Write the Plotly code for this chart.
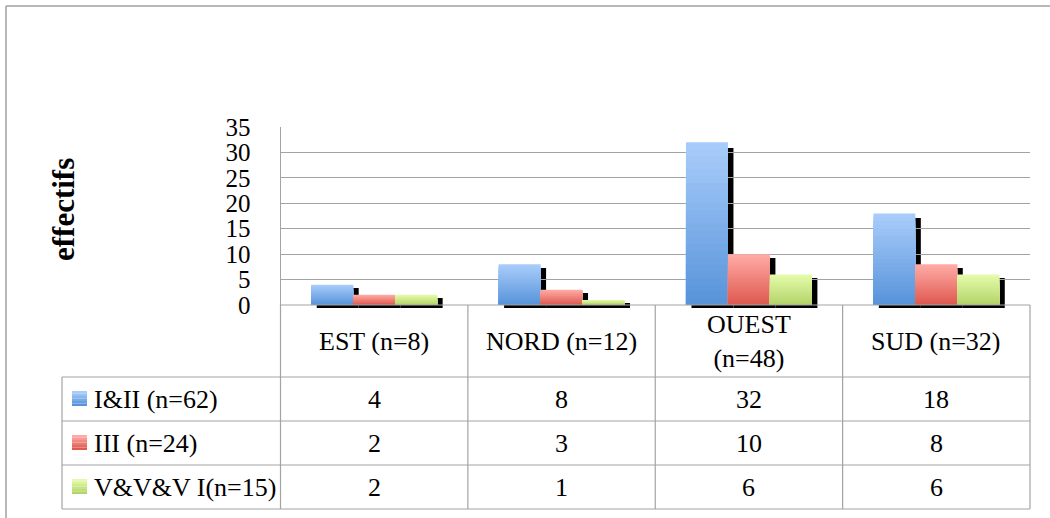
import plotly.graph_objects as go

# data
regions = ["EST (n=8)", "NORD (n=12)", "OUEST (n=48)", "SUD (n=32)"]
region_labels = ["EST (n=8)", "NORD (n=12)", "OUEST<br>(n=48)", "SUD (n=32)"]
series_names = ["I&II (n=62)", "III (n=24)", "V&V&V I(n=15)"]
i_ii = [4, 8, 32, 18]
iii = [2, 3, 10, 8]
v_vi = [2, 1, 6, 6]
y_ticks = [0, 5, 10, 15, 20, 25, 30, 35]

series_values = [i_ii, iii, v_vi]
# (top colour, bottom colour) for the Excel-like gradient
series_colors = [((168, 204, 250), (88, 148, 218)),
                 ((255, 170, 165), (222, 90, 80)),
                 ((228, 251, 170), (180, 212, 106))]

W, H = 1050, 518
FONT = "Liberation Serif"
GRID = "#a3a3a3"


def px(x):
    return x / W


def py(y):
    return 1 - y / H


def mix(c1, c2, t):
    return "rgb(%d,%d,%d)" % tuple(round(a + (b - a) * t) for a, b in zip(c1, c2))


# plot area in pixels
left, right, top, zero = 280.5, 1030, 127, 305
col_w = (right - left) / 4
rows = [377, 421, 465, 509]

fig = go.Figure()

# shadows (drawn first, on an offset subplot)
for k, vals in enumerate(series_values):
    fig.add_trace(go.Bar(x=regions, y=vals, xaxis="x", yaxis="y",
                         marker=dict(color="black", line_width=0),
                         offsetgroup=str(k), showlegend=False, hoverinfo="skip"))

# real bars with a stepped vertical gradient
N = 24
for k, vals in enumerate(series_values):
    c_top, c_bot = series_colors[k]
    for j in range(N):
        frac = (N - j) / N
        fig.add_trace(go.Bar(x=regions, y=[v * frac for v in vals],
                             xaxis="x2", yaxis="y2",
                             marker=dict(color=mix(c_top, c_bot, j / (N - 1)), line_width=0),
                             offsetgroup=str(k), name=series_names[k],
                             showlegend=False, hoverinfo="skip"))

sx, sy = 5.5, 3
fig.update_layout(
    width=W, height=H, autosize=False,
    margin=dict(l=0, r=0, t=0, b=0, pad=0),
    paper_bgcolor="white", plot_bgcolor="rgba(0,0,0,0)",
    font=dict(family=FONT, size=26, color="black"),
    barmode="group", bargap=0.328, bargroupgap=0,
    showlegend=False,
    xaxis=dict(domain=[px(left + sx), px(right + sx)], anchor="y",
               categoryorder="array", categoryarray=regions,
               visible=False, range=[-0.5, 3.5], automargin=False),
    yaxis=dict(domain=[py(zero + sy), py(top + sy)], anchor="x",
               range=[0, 35.6], visible=False, automargin=False),
    xaxis2=dict(domain=[px(left), px(right)], anchor="y2",
                categoryorder="array", categoryarray=regions,
                range=[-0.5, 3.5], showticklabels=False, showgrid=False,
                zeroline=False, showline=False, ticks="", automargin=False),
    yaxis2=dict(domain=[py(zero), py(top)], anchor="x2",
                range=[0, 35], tickvals=y_ticks, showgrid=True,
                gridcolor=GRID, gridwidth=1.2, zeroline=False,
                showline=True, linecolor=GRID, linewidth=1.2,
                ticks="", ticklabelstandoff=24, automargin=False,
                tickfont=dict(family=FONT, size=25, color="black")),
)

line = dict(color=GRID, width=1.2)
shapes = []
# outer chart border
shapes.append(dict(type="line", xref="paper", yref="paper",
                   x0=px(6), x1=px(1050), y0=py(6), y1=py(6), line=dict(color="#a0a0a0", width=1.5)))
shapes.append(dict(type="line", xref="paper", yref="paper",
                   x0=px(6), x1=px(6), y0=py(6), y1=py(518), line=dict(color="#a0a0a0", width=1.5)))
# data table horizontal lines
shapes.append(dict(type="line", xref="paper", yref="paper",
                   x0=px(left), x1=px(right), y0=py(zero), y1=py(zero), line=line))
for r in rows:
    shapes.append(dict(type="line", xref="paper", yref="paper",
                       x0=px(62), x1=px(right), y0=py(r), y1=py(r), line=line))
# vertical lines
shapes.append(dict(type="line", xref="paper", yref="paper",
                   x0=px(62), x1=px(62), y0=py(rows[0]), y1=py(rows[-1]), line=line))
for c in range(5):
    xx = left + c * col_w
    shapes.append(dict(type="line", xref="paper", yref="paper",
                       x0=px(xx), x1=px(xx), y0=py(zero), y1=py(rows[-1]), line=line))

# legend keys with small gradient
for k in range(3):
    c_top, c_bot = series_colors[k]
    y0 = (rows[k] + rows[k + 1]) / 2 - 8
    steps = 6
    for j in range(steps):
        shapes.append(dict(type="rect", xref="paper", yref="paper",
                           x0=px(72), x1=px(87),
                           y0=py(y0 + 15 * j / steps), y1=py(y0 + 15 * (j + 1) / steps),
                           fillcolor=mix(c_top, c_bot, j / (steps - 1)), line_width=0))
fig.update_layout(shapes=shapes)

ann = []
# header labels
for i, lab in enumerate(region_labels):
    ann.append(dict(x=i, xref="x2", y=py((zero + rows[0]) / 2), yref="paper",
                    text=lab, showarrow=False, font=dict(size=26),
                    xanchor="center", yanchor="middle"))
# table rows
for k, vals in enumerate(series_values):
    yc = py((rows[k] + rows[k + 1]) / 2)
    ann.append(dict(x=px(92), xref="paper", y=yc, yref="paper",
                    text=series_names[k], showarrow=False, font=dict(size=26),
                    xanchor="left", yanchor="middle"))
    for i, v in enumerate(vals):
        ann.append(dict(x=i, xref="x2", y=yc, yref="paper",
                        text=str(v), showarrow=False, font=dict(size=26),
                        xanchor="center", yanchor="middle"))
# axis title
ann.append(dict(x=px(63), xref="paper", y=py(210), yref="paper",
                text="<b>effectifs</b>", textangle=-90, showarrow=False,
                font=dict(size=31), xanchor="center", yanchor="middle"))
fig.update_layout(annotations=ann)

# drop the default page margin so the figure sits at the window's corner
fig.write_html("out.html", config={"displayModeBar": False},
               post_script="document.body.style.margin='0';document.body.style.overflow='hidden';")
